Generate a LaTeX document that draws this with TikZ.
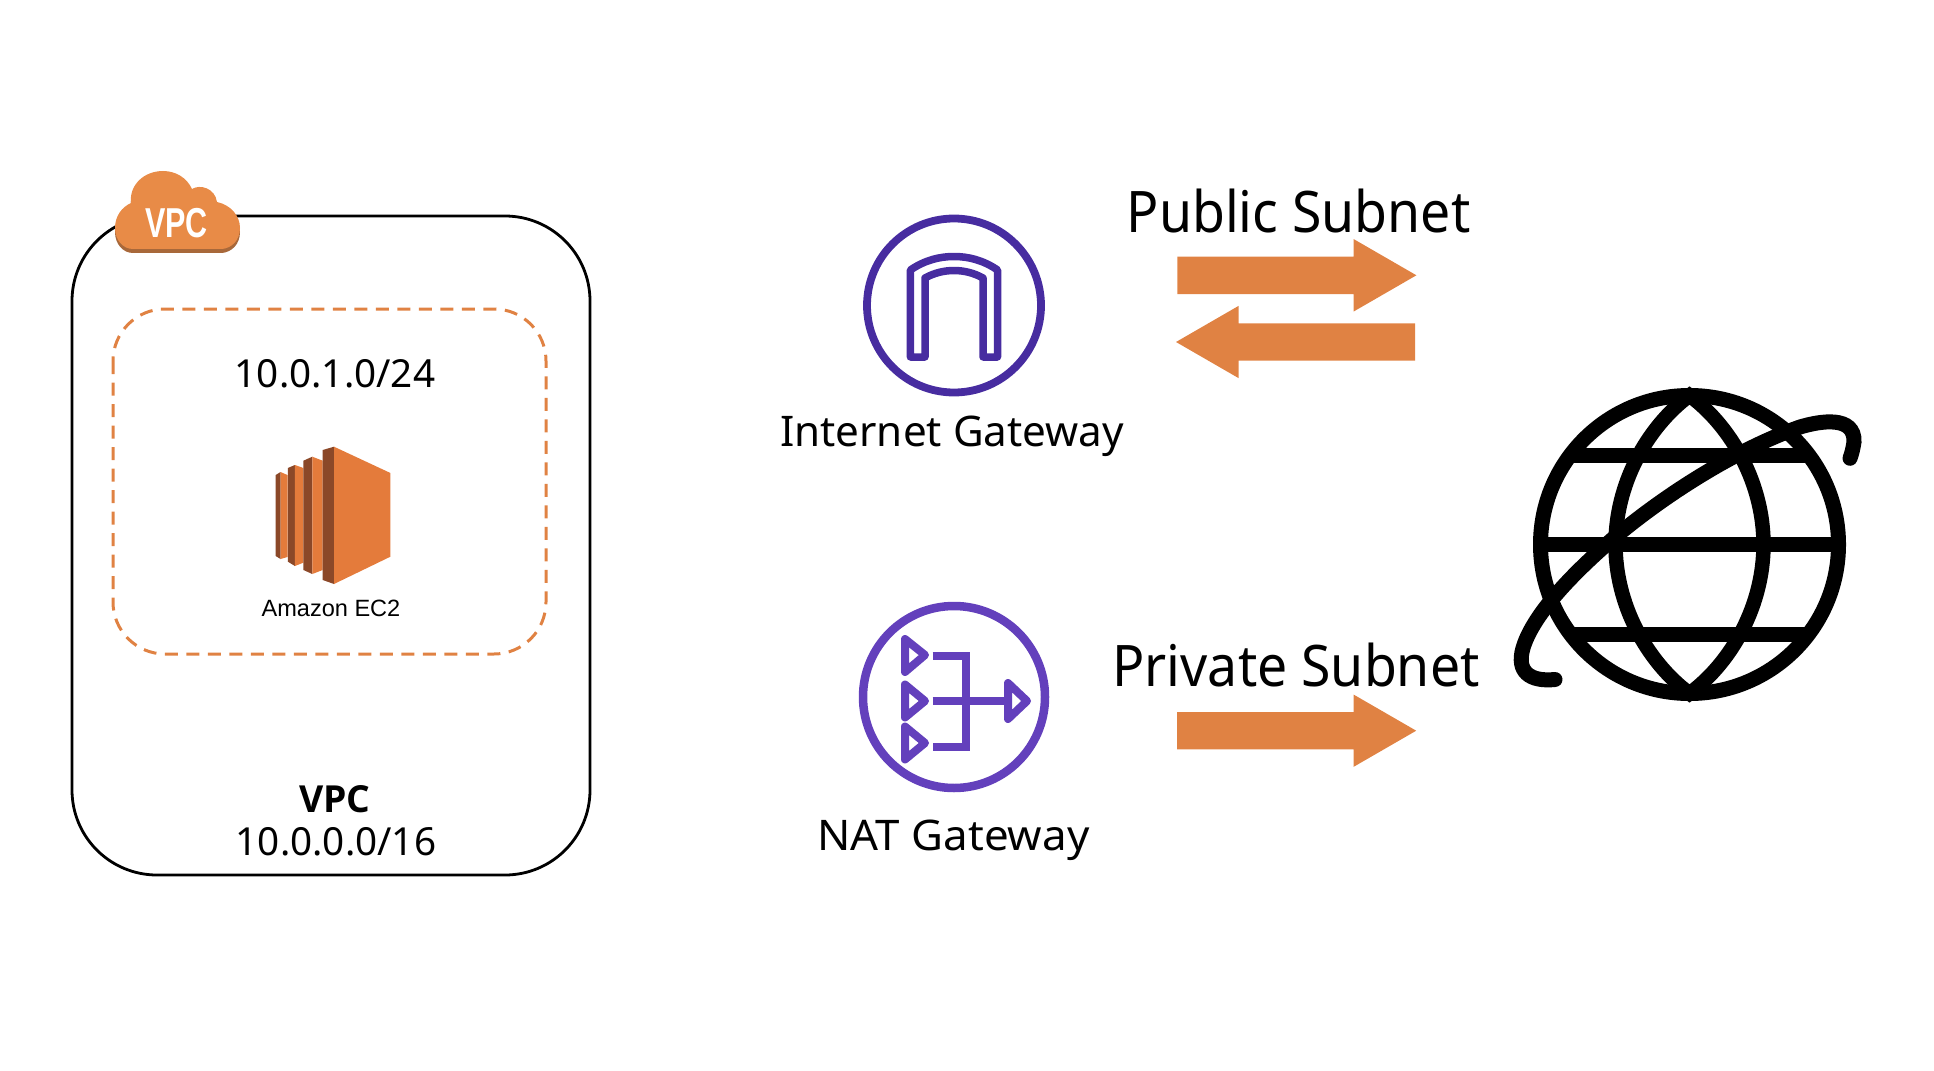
\documentclass[tikz,border=0pt]{standalone}
\usepackage{fontspec}
\setmainfont{Noto Sans}
\newfontfamily\cloudfont[FakeStretch=0.73]{Liberation Sans}
\newfontfamily\arialfont{Liberation Sans}
\newfontfamily\subnetfont[FakeStretch=0.935]{Noto Sans}
\newfontfamily\natfont[FakeStretch=1.04]{Noto Sans}
\newfontfamily\titlefont{Open Sans}
\usetikzlibrary{shapes.arrows}
\definecolor{awsorange}{HTML}{E47B3B}
\definecolor{awsbrown}{HTML}{8B4828}
\definecolor{cloudorange}{HTML}{E88B47}
\definecolor{cloudbrown}{HTML}{A8683A}
\definecolor{linkorange}{HTML}{E08243}
\definecolor{igwpurple}{HTML}{472CA0}
\definecolor{natpurple}{HTML}{6340BC}
\tikzset{
  iptext/.style={anchor=base, inner sep=0pt, font=\fontsize{11}{13}\selectfont},
  gwtext/.style={anchor=base, inner sep=0pt, font=\fontsize{12}{14}\selectfont},
  subnettext/.style={anchor=base, inner sep=0pt, font=\subnetfont\fontsize{16.3}{18}\selectfont},
  fatarrow/.style={single arrow, fill=linkorange, inner sep=0pt, outer sep=0pt, anchor=tail,
    text height=0.18cm, text depth=0.18cm,
    minimum height=2.39cm, minimum width=0.71cm, single arrow head extend=0.175cm,
    single arrow tip angle=60, single arrow head indent=0cm},
  globeline/.style={line width=0.15cm}
}
\newcommand{\cloudpath}{(1.15,8.42) .. controls (1.15,8.54) and (1.22,8.63) .. (1.31,8.67) .. controls (1.29,8.85) and (1.44,8.99) .. (1.63,8.99) .. controls (1.76,8.99) and (1.87,8.92) .. (1.92,8.81) .. controls (2.00,8.86) and (2.15,8.82) .. (2.17,8.68) .. controls (2.31,8.65) and (2.40,8.54) .. (2.40,8.42) .. controls (2.40,8.30) and (2.32,8.22) .. (2.22,8.21) -- (1.33,8.21) .. controls (1.23,8.21) and (1.15,8.30) .. (1.15,8.42) -- cycle}
\begin{document}
\begin{tikzpicture}
    \useasboundingbox (0,0) rectangle (19.34,10.70);

    % Drawing VPC box
    \draw [line width=0.028cm, rounded corners=0.85cm] (0.72,8.54) rectangle (5.90,1.95);%

    % Drawing subnet box
    \draw [line width=0.03cm, draw=linkorange, dash pattern=on 0.13cm off 0.085cm, rounded corners=0.52cm] (1.13,7.61) rectangle (5.46,4.16);%

    % Drawing VPC cloud
    \fill [cloudbrown, yshift=-0.04cm] \cloudpath;%
    \fill [cloudorange] \cloudpath;%
    \node (cloudtext) [anchor=base, inner sep=0pt, text=white, font=\cloudfont\bfseries\fontsize{11.9}{14}\selectfont] at (1.765,8.32) {VPC};%

    % Marking subnet and VPC text
    \node (subnetcidr) [iptext] at (3.35,6.83) {10.0.1.0/24};%
    \node (vpctitle) [iptext, font=\titlefont\bfseries\fontsize{10.6}{13}\selectfont] at (3.35,2.58) {VPC};%
    \node (vpccidr) [iptext] at (3.36,2.15) {10.0.0.0/16};%

    % Drawing EC2 slabs
    \fill [awsbrown] (2.757,5.95) -- (2.805,5.98) -- (2.805,5.11) -- (2.757,5.14) -- cycle;%
    \fill [awsorange] (2.805,5.98) -- (2.875,5.95) -- (2.875,5.13) -- (2.805,5.11) -- cycle;%
    \fill [awsbrown] (2.879,6.02) -- (2.949,6.05) -- (2.949,5.04) -- (2.879,5.083) -- cycle;%
    \fill [awsorange] (2.949,6.05) -- (3.034,6.02) -- (3.034,5.073) -- (2.949,5.04) -- cycle;%
    \fill [awsbrown] (3.034,6.093) -- (3.123,6.133) -- (3.123,4.96) -- (3.034,5.00) -- cycle;%
    \fill [awsorange] (3.123,6.133) -- (3.227,6.093) -- (3.227,5.00) -- (3.123,4.96) -- cycle;%
    \fill [awsbrown] (3.227,6.20) -- (3.34,6.233) -- (3.34,4.86) -- (3.227,4.90) -- cycle;%
    \fill [awsorange] (3.34,6.233) -- (3.904,5.97) -- (3.904,5.133) -- (3.34,4.86) -- cycle;%
    \node (ec2text) [anchor=base, inner sep=0pt, font=\arialfont\fontsize{6.7}{9}\selectfont] at (3.31,4.54) {Amazon EC2};%

    % Drawing internet gateway
    \draw [line width=0.078cm, igwpurple] (9.54,7.645) circle (0.87);%
    \draw [line width=0.075cm, igwpurple, line join=round] (9.104,7.13) -- (9.104,8.00) .. controls (9.25,8.10) and (9.40,8.135) .. (9.54,8.135) .. controls (9.68,8.135) and (9.83,8.10) .. (9.975,8.00) -- (9.975,7.13) -- (9.83,7.13) -- (9.83,7.92) .. controls (9.74,7.97) and (9.64,7.995) .. (9.54,7.995) .. controls (9.44,7.995) and (9.34,7.97) .. (9.25,7.92) -- (9.25,7.13) -- cycle;%
    \node (igwtext) [gwtext] at (9.52,6.233) {Internet Gateway};%

    % Drawing NAT gateway
    \draw [line width=0.085cm, natpurple] (9.54,3.73) circle (0.91);%
    \draw [line width=0.08cm, natpurple, line join=round] (9.05,4.31) -- (9.25,4.15) -- (9.05,3.98) -- cycle;%
    \draw [line width=0.08cm, natpurple, line join=round] (9.05,3.855) -- (9.25,3.69) -- (9.05,3.525) -- cycle;%
    \draw [line width=0.08cm, natpurple, line join=round] (9.05,3.435) -- (9.25,3.27) -- (9.05,3.105) -- cycle;%
    \draw [line width=0.08cm, natpurple, line join=round] (10.08,3.87) -- (10.27,3.69) -- (10.08,3.51) -- cycle;%
    \draw [line width=0.08cm, natpurple] (9.326,4.144) -- (9.656,4.144) -- (9.656,3.23) -- (9.326,3.23);%
    \draw [line width=0.08cm, natpurple] (9.326,3.69) -- (10.05,3.69);%
    \node (nattext) [gwtext, font=\natfont\fontsize{12}{14}\selectfont] at (9.535,2.20) {NAT Gateway};%

    % Marking subnet arrows
    \node (pubtext) [subnettext] at (12.985,8.373) {Public Subnet};%
    \node (pubout) [fatarrow] at (11.774,7.947) {};%
    \node (pubin) [fatarrow, shape border rotate=180] at (14.15,7.28) {};%
    \node (privtext) [subnettext] at (12.96,3.84) {Private Subnet};%
    \node (privout) [fatarrow] at (11.772,3.393) {};%

    % Drawing globe
    \draw [globeline] (16.895,5.255) circle (1.49);%
    \draw [globeline] (15.405,5.255) -- (18.385,5.255);%
    \draw [globeline] (15.705,6.15) -- (18.085,6.15);%
    \draw [globeline] (15.705,4.36) -- (18.085,4.36);%
    \draw [line width=0.145cm] (16.895,6.745) .. controls (17.33,6.42) and (17.635,5.85) .. (17.635,5.255) .. controls (17.635,4.66) and (17.33,4.09) .. (16.895,3.765) .. controls (16.46,4.09) and (16.155,4.66) .. (16.155,5.255) .. controls (16.155,5.85) and (16.46,6.42) .. (16.895,6.745) -- cycle;%
    \draw [globeline, line cap=round] (15.55,3.905) .. controls (15.30,3.88) and (15.16,3.98) .. (15.23,4.22) .. controls (15.32,4.52) and (15.65,4.90) .. (16.15,5.33) .. controls (16.65,5.75) and (17.35,6.20) .. (18.00,6.43) .. controls (18.20,6.49) and (18.55,6.55) .. (18.54,6.28) .. controls (18.53,6.22) and (18.52,6.17) .. (18.50,6.117);%
\end{tikzpicture}
\end{document}
